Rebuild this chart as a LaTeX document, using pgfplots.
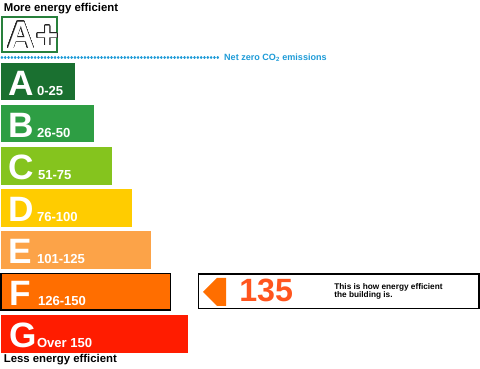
\documentclass[border=0pt]{standalone}
\usepackage{pgfplots}
\pgfplotsset{compat=1.18}
\usepackage{fontspec}
\setmainfont{Liberation Sans}
\usepackage{contour}
\contourlength{0.6pt}
\contournumber{32}
\definecolor{cA}{RGB}{26,112,48}
\definecolor{cB}{RGB}{46,158,68}
\definecolor{cC}{RGB}{133,196,30}
\definecolor{cD}{RGB}{255,204,0}
\definecolor{cE}{RGB}{252,163,72}
\definecolor{cF}{RGB}{255,110,0}
\definecolor{cG}{RGB}{255,28,0}
\definecolor{cNum}{RGB}{255,85,30}
\definecolor{cBlue}{RGB}{30,155,215}
\definecolor{cBox}{RGB}{40,128,60}
\newcommand{\fs}[1]{\fontsize{#1}{#1}\selectfont\bfseries}
\begin{document}
\begin{tikzpicture}
\begin{axis}[
  scale only axis, width=480pt, height=363pt,
  xmin=-2, xmax=478, ymin=0, ymax=363, y dir=reverse,
  axis lines=none, xtick=\empty, ytick=\empty, clip=false,
  every node/.style={inner sep=0pt, outer sep=0pt},
]
% bands
\addplot[xbar, bar shift=0pt, bar width=37.5, fill=cA, draw=none] coordinates {(74,79)};
\addplot[xbar, bar shift=0pt, bar width=37.5, fill=cB, draw=none] coordinates {(93,120.8)};
\addplot[xbar, bar shift=0pt, bar width=37.5, fill=cC, draw=none] coordinates {(111,162.6)};
\addplot[xbar, bar shift=0pt, bar width=37.5, fill=cD, draw=none] coordinates {(130,204.4)};
\addplot[xbar, bar shift=0pt, bar width=37.5, fill=cE, draw=none] coordinates {(149,246.2)};
\addplot[xbar, bar shift=0pt, bar width=36, fill=cF, draw=black, line width=1.5pt] coordinates {(168.5,288)};
\addplot[xbar, bar shift=0pt, bar width=37.5, fill=cG, draw=none] coordinates {(186,329.8)};
% A+ box
\addplot[draw=cBox, line width=1.8pt, fill=white] coordinates {(1,15)(55.5,15)(55.5,49.5)(1,49.5)} -- cycle;
% dotted net zero line
\addplot[cBlue, line width=2.4pt, line cap=round, dash pattern=on 0.3pt off 3pt] coordinates {(1,55)(216,55)};
% rating box and arrow
\addplot[draw=black, line width=1.5pt, fill=white] coordinates {(196.5,270.5)(475.5,270.5)(475.5,304.5)(196.5,304.5)} -- cycle;
\addplot[draw=none, fill=cF] coordinates {(201,288)(215,274)(224,274)(224,302)(215,302)} -- cycle;
% letters
\node[anchor=base west, white] at (axis cs:4,92.5) {\fs{35}A};
\node[anchor=base west, white] at (axis cs:4,134.3) {\fs{35}B};
\node[anchor=base west, white] at (axis cs:4,176.1) {\fs{35}C};
\node[anchor=base west, white] at (axis cs:4,217.9) {\fs{35}D};
\node[anchor=base west, white] at (axis cs:4,259.7) {\fs{35}E};
\node[anchor=base west, white] at (axis cs:5,301.5) {\fs{35}F};
\node[anchor=base west, white] at (axis cs:5,343.3) {\fs{35}G};
% ranges
\node[anchor=base west, white] at (axis cs:32.5,93) {\fs{13}0-25};
\node[anchor=base west, white] at (axis cs:32.5,134.8) {\fs{13}26-50};
\node[anchor=base west, white] at (axis cs:33.5,176.6) {\fs{13}51-75};
\node[anchor=base west, white] at (axis cs:32.5,218.4) {\fs{13}76-100};
\node[anchor=base west, white] at (axis cs:32.5,260.2) {\fs{13}101-125};
\node[anchor=base west, white] at (axis cs:33.5,302) {\fs{13}126-150};
\node[anchor=base west, white] at (axis cs:32.5,343.8) {\fs{13}Over 150};
% texts
\node[anchor=base west] at (axis cs:-0.5,9.5) {\fs{11.3}More energy efficient};
\node[anchor=base west] at (axis cs:-0.5,358) {\fs{11.3}Less energy efficient};
\node[anchor=base west] at (axis cs:3,46) {\fs{38}\color{white}\contour{black!85}{A\kern1.5pt+}};
\node[anchor=base west, cBlue] at (axis cs:218.5,58.5) {\fs{9}Net zero CO\textsubscript{2} emissions};
\node[anchor=base west, cNum] at (axis cs:233.5,297.5) {\fs{32}135};
\node[anchor=base west] at (axis cs:328,286) {\fs{8.2}This is how energy efficient};
\node[anchor=base west] at (axis cs:328,294) {\fs{8.2}the building is.};
\end{axis}
\end{tikzpicture}
\end{document}
